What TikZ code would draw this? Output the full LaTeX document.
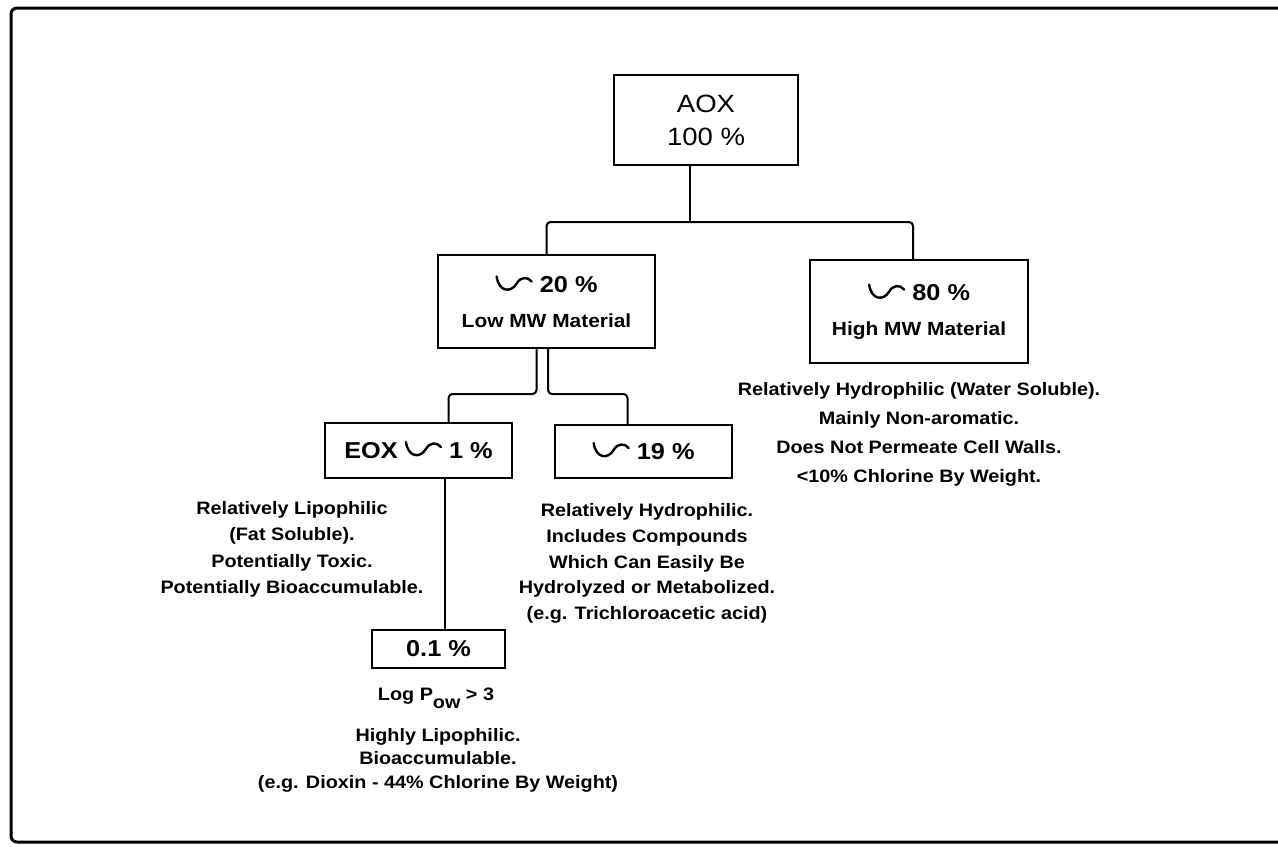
\documentclass[tikz,border=0pt]{standalone}
\usepackage{fontspec}
\setmainfont{Liberation Sans}[FakeStretch=1.1]
\usepackage{tikz}
\newcommand{\approxsym}[0]{\tikz[baseline=0pt, x=1pt, y=1pt, line width=1.2pt, line cap=round]\draw (0,8) .. controls (1,0.5) and (7,-0.5) .. (10,4.5) .. controls (12,8) and (15.5,8) .. (17.5,5.5);}
\newcommand{\boxfont}[0]{\fontsize{11.5}{17.5}\selectfont\bfseries}
\newcommand{\notefont}[1]{\fontsize{9}{#1}\selectfont\bfseries}

\begin{document}
\begin{tikzpicture}[x=0.5pt, y=-0.5pt]
  \tikzset{
    box/.style={draw, line width=1pt, align=center, inner sep=0pt},
    link/.style={line width=1pt, rounded corners=2pt},
    note/.style={align=center, anchor=north, inner sep=0pt}
  }
  \useasboundingbox (0,0) rectangle (1278,846);
  \draw[line width=1.5pt, rounded corners=3pt] (1280,8) -- (11,8) -- (11,842) -- (1280,842);

  \node[box, minimum width=92pt, minimum height=45pt, font=\fontsize{12.5}{16.5}\selectfont] (aox) at (706,120) {AOX\\100 \%};
  \node[box, minimum width=108.5pt, minimum height=46.5pt, font=\fontsize{9.5}{17.5}\selectfont\bfseries] (lowmw) at (546.5,301.5) {{\boxfont\approxsym\ 20 \%}\\Low MW Material};
  \node[box, minimum width=109pt, minimum height=51.5pt, font=\fontsize{9.5}{17.5}\selectfont\bfseries] (highmw) at (919,311.5) {{\boxfont\approxsym\ 80 \%}\\High MW Material};
  \node[box, minimum width=93.5pt, minimum height=27.5pt, font=\boxfont] (eox) at (418.5,450.5) {EOX \approxsym\ 1 \%};
  \node[box, minimum width=88.5pt, minimum height=26.5pt, font=\boxfont] (p19) at (643.5,451.5) {\approxsym\ 19 \%};
  \node[box, minimum width=66.5pt, minimum height=19pt, font=\boxfont] (p01) at (438.5,649) {0.1 \%};

  \node[note, font=\notefont{14.5}] (highnote) at (919,382) {Relatively Hydrophilic (Water Soluble).\\Mainly Non-aromatic.\\Does Not Permeate Cell Walls.\\<10\% Chlorine By Weight.};
  \node[note, font=\notefont{13.25}] (lipnote) at (292,501) {Relatively Lipophilic\\(Fat Soluble).\\Potentially Toxic.\\Potentially Bioaccumulable.};
  \node[note, font=\notefont{12.9}] (hydnote) at (647,503) {Relatively Hydrophilic.\\Includes Compounds\\Which Can Easily Be\\Hydrolyzed or Metabolized.\\(e.g. Trichloroacetic acid)};
  \node[note, font=\notefont{12}] (lognote) at (436,688) {Log P\raisebox{-4pt}{ow} > 3};
  \node[note, font=\notefont{11.75}] (pownote) at (438,728) {Highly Lipophilic.\\Bioaccumulable.\\(e.g. Dioxin - 44\% Chlorine By Weight)};

  \coordinate (split) at (690,222);
  \draw[link] (aox.south -| split) -- (split);
  \draw[link] (lowmw.north) |- (split) -| ([xshift=-3pt]highmw.north);
  \draw[link] ([xshift=-5pt]lowmw.south) -- ++(0,45) -| ([xshift=15pt]eox.north);
  \draw[link] ([xshift=0.75pt]lowmw.south) -- ++(0,45) -| ([xshift=-8pt]p19.north);
  \draw[link] ([xshift=13pt]eox.south) -- ([xshift=13pt]eox.south |- p01.north);
\end{tikzpicture}
\end{document}
